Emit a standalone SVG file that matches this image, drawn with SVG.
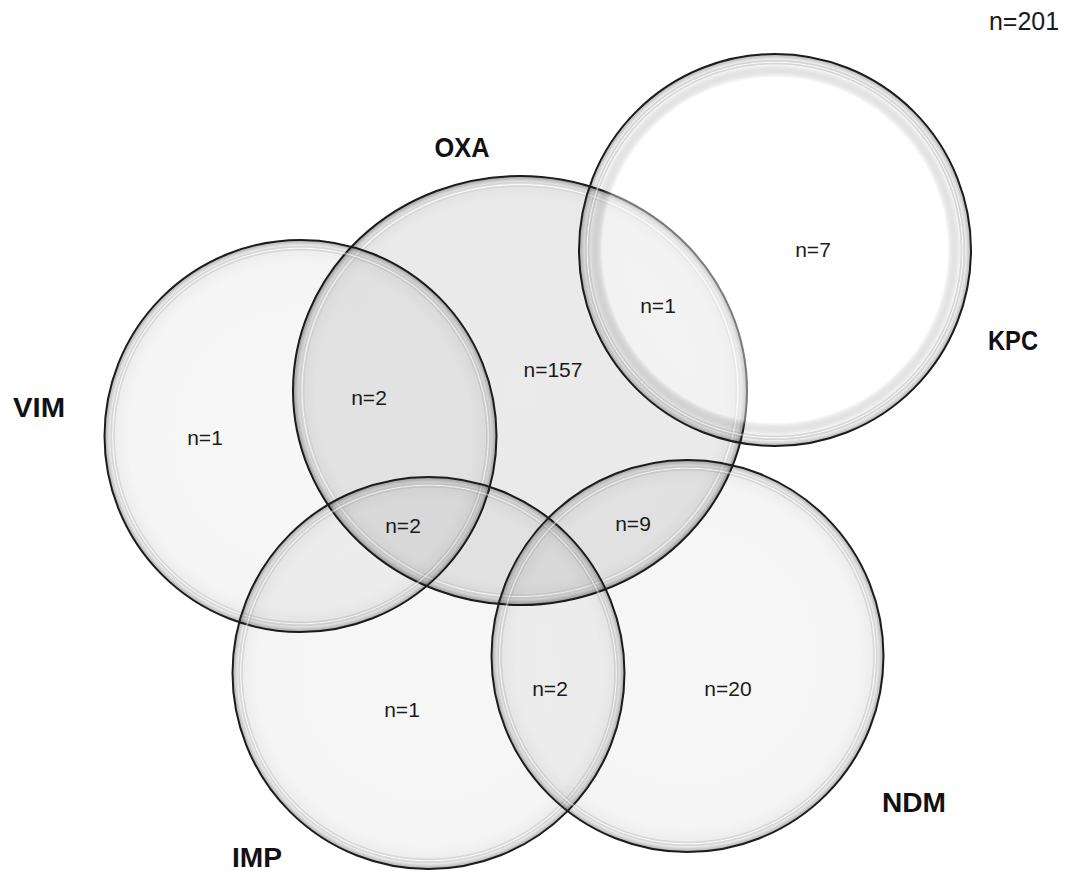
<svg xmlns="http://www.w3.org/2000/svg" width="1067" height="871" viewBox="0 0 1067 871">
  <defs>
    <radialGradient id="rimDark" cx="0.5" cy="0.5" r="0.5">
      <stop offset="0" stop-color="#000" stop-opacity="0.03"/>
      <stop offset="0.88" stop-color="#000" stop-opacity="0.04"/>
      <stop offset="0.945" stop-color="#000" stop-opacity="0.07"/>
      <stop offset="0.958" stop-color="#fff" stop-opacity="0.55"/>
      <stop offset="0.972" stop-color="#000" stop-opacity="0.08"/>
      <stop offset="1" stop-color="#000" stop-opacity="0.32"/>
    </radialGradient>
    <radialGradient id="rimOxa" cx="0.5" cy="0.5" r="0.5">
      <stop offset="0" stop-color="#000" stop-opacity="0.08"/>
      <stop offset="0.9" stop-color="#000" stop-opacity="0.085"/>
      <stop offset="0.948" stop-color="#000" stop-opacity="0.11"/>
      <stop offset="0.96" stop-color="#fff" stop-opacity="0.5"/>
      <stop offset="0.974" stop-color="#000" stop-opacity="0.12"/>
      <stop offset="1" stop-color="#000" stop-opacity="0.38"/>
    </radialGradient>
    <radialGradient id="rimLight" cx="0.5" cy="0.5" r="0.5">
      <stop offset="0" stop-color="#fff" stop-opacity="0.45"/>
      <stop offset="0.88" stop-color="#fff" stop-opacity="0.4"/>
      <stop offset="0.945" stop-color="#000" stop-opacity="0.04"/>
      <stop offset="0.958" stop-color="#fff" stop-opacity="0.6"/>
      <stop offset="0.972" stop-color="#000" stop-opacity="0.07"/>
      <stop offset="1" stop-color="#000" stop-opacity="0.3"/>
    </radialGradient>
  </defs>
  <style>
    .ring { stroke: #1c1c1c; stroke-width: 2; }
    .num { font-family: "Liberation Sans", Arial, sans-serif; font-size: 21px; fill: #1a1a1a; text-anchor: middle; }
    .name { font-family: "Liberation Sans", Arial, sans-serif; font-size: 27px; font-weight: bold; fill: #111; text-anchor: middle; }
  </style>
  <rect width="1067" height="871" fill="#fff"/>

  <g id="OXA">
    <ellipse class="ring" cx="520" cy="390.5" rx="227" ry="214.5" fill="url(#rimOxa)"/>
  </g>
  <g id="VIM">
    <circle class="ring" cx="300.5" cy="436" r="196" fill="url(#rimDark)"/>
  </g>
  <g id="IMP">
    <circle class="ring" cx="428.5" cy="673" r="196" fill="url(#rimDark)"/>
  </g>
  <g id="NDM">
    <circle class="ring" cx="687.5" cy="656" r="196" fill="url(#rimDark)"/>
  </g>
  <g id="KPC">
    <circle class="ring" cx="775" cy="250" r="196" fill="url(#rimLight)"/>
  </g>

  <g id="connectors"/>

  <g id="labels">
    <text class="name" x="462" y="157" textLength="55" lengthAdjust="spacingAndGlyphs">OXA</text>
    <text class="name" x="1013" y="350" textLength="50" lengthAdjust="spacingAndGlyphs">KPC</text>
    <text class="name" x="39" y="417" textLength="52" lengthAdjust="spacingAndGlyphs">VIM</text>
    <text class="name" x="914" y="812" textLength="64" lengthAdjust="spacingAndGlyphs">NDM</text>
    <text class="name" x="257" y="867" textLength="50" lengthAdjust="spacingAndGlyphs">IMP</text>
    <text class="num" x="1024" y="30" style="font-size:25px">n=201</text>
    <text class="num" x="813" y="257">n=7</text>
    <text class="num" x="658" y="313">n=1</text>
    <text class="num" x="553" y="377">n=157</text>
    <text class="num" x="369" y="405">n=2</text>
    <text class="num" x="205" y="445">n=1</text>
    <text class="num" x="403" y="533">n=2</text>
    <text class="num" x="633" y="531">n=9</text>
    <text class="num" x="402" y="717">n=1</text>
    <text class="num" x="550" y="696">n=2</text>
    <text class="num" x="728" y="696">n=20</text>
  </g>
</svg>
